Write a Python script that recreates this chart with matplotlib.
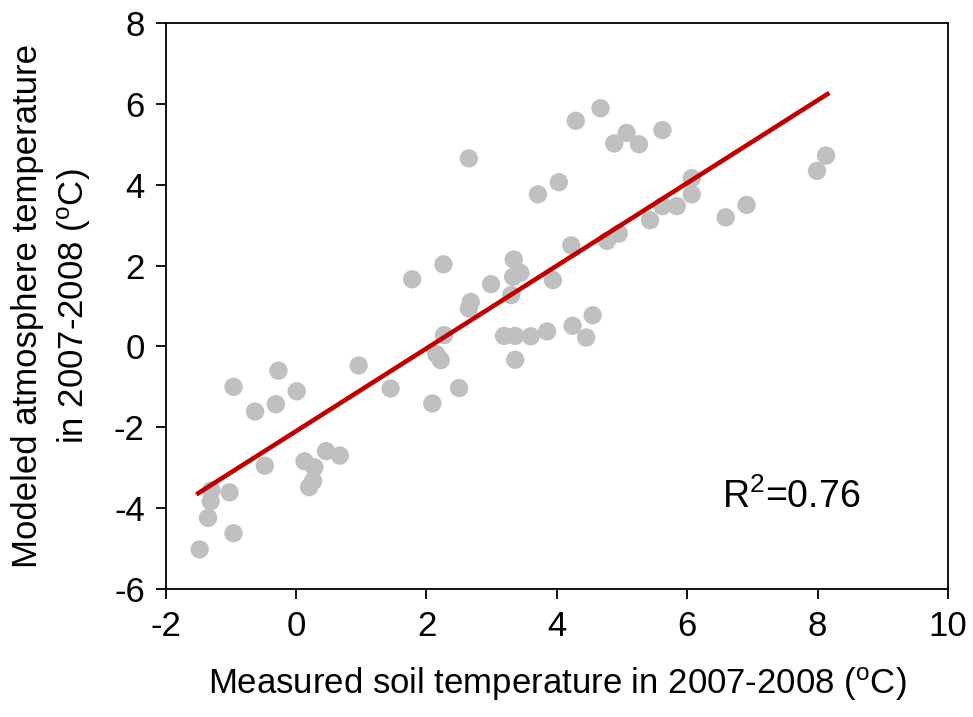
import matplotlib
matplotlib.use('Agg')
import matplotlib.pyplot as plt

plt.rcParams['font.family'] = ['Liberation Sans', 'DejaVu Sans']
plt.rcParams['mathtext.default'] = 'regular'
plt.rcParams['axes.unicode_minus'] = False

# medido (solo) x modelado (atmosfera)
solo = [-1.48, -0.96, -1.35, -1.31, -1.30, -1.02, -0.48, -0.96, -0.27, -0.63,
        -0.31, 0.01, 0.96, 1.45, 2.09, 2.15, 2.22, 2.27, 2.50, 0.13,
        0.28, 0.26, 0.20, 0.46, 0.67, 4.67, 4.29, 5.07, 4.88, 5.26,
        5.62, 2.65, 4.03, 3.71, 5.84, 5.43, 4.95, 4.77, 4.22, 3.34,
        3.44, 3.33, 2.26, 1.78, 2.99, 3.94, 2.68, 2.65, 3.30, 3.19,
        3.36, 3.60, 3.85, 4.24, 4.55, 4.45, 3.36, 8.13, 7.99, 6.07,
        6.07, 5.62, 6.91, 6.59]
atmos = [-5.02, -4.62, -4.24, -3.83, -3.56, -3.61, -2.95, -1.00, -0.60, -1.61,
         -1.43, -1.11, -0.47, -1.04, -1.41, -0.19, -0.34, 0.28, -1.03, -2.84,
         -2.99, -3.33, -3.48, -2.59, -2.70, 5.89, 5.58, 5.28, 5.02, 5.00,
         5.35, 4.65, 4.06, 3.76, 3.47, 3.12, 2.79, 2.61, 2.50, 2.15,
         1.82, 1.72, 2.03, 1.66, 1.54, 1.64, 1.10, 0.94, 1.27, 0.26,
         0.26, 0.25, 0.37, 0.51, 0.77, 0.22, -0.33, 4.72, 4.34, 4.16,
         3.76, 3.47, 3.50, 3.19]

# reta ajustada (pontos extremos)
reta_x = [-1.50, 8.15]
reta_y = [-3.63, 6.24]

fig = plt.figure(figsize=(9.73, 7.17), dpi=100)
ax = fig.add_axes([0.1703, 0.1785, 0.804, 0.7895])

ax.scatter(solo, atmos, s=175, color='#c0c0c0', edgecolors='none', zorder=2)
ax.plot(reta_x, reta_y, color='#c00000', linewidth=3.3, zorder=3)

ax.text(6.53, -3.72, 'R$^2$=0.76', fontsize=27, va='center', ha='left')

ax.set_xlim(-2, 10)
ax.set_ylim(-6, 8)
ax.set_xticks(range(-2, 11, 2))
ax.set_yticks(range(-6, 9, 2))
ax.tick_params(direction='out', length=7, width=1.3, labelsize=25, pad=8,
               top=False, right=False)
for s in ax.spines.values():
    s.set_linewidth(1.3)

ax.set_xlabel('Measured soil temperature in 2007-2008 ($^{o}$C)', fontsize=25, labelpad=16)
ax.set_ylabel('Modeled atmosphere temperature\nin 2007-2008 ($^{o}$C)', fontsize=25,
              labelpad=15, linespacing=1.4)

plt.savefig('out.png', dpi=100)
plt.close()
